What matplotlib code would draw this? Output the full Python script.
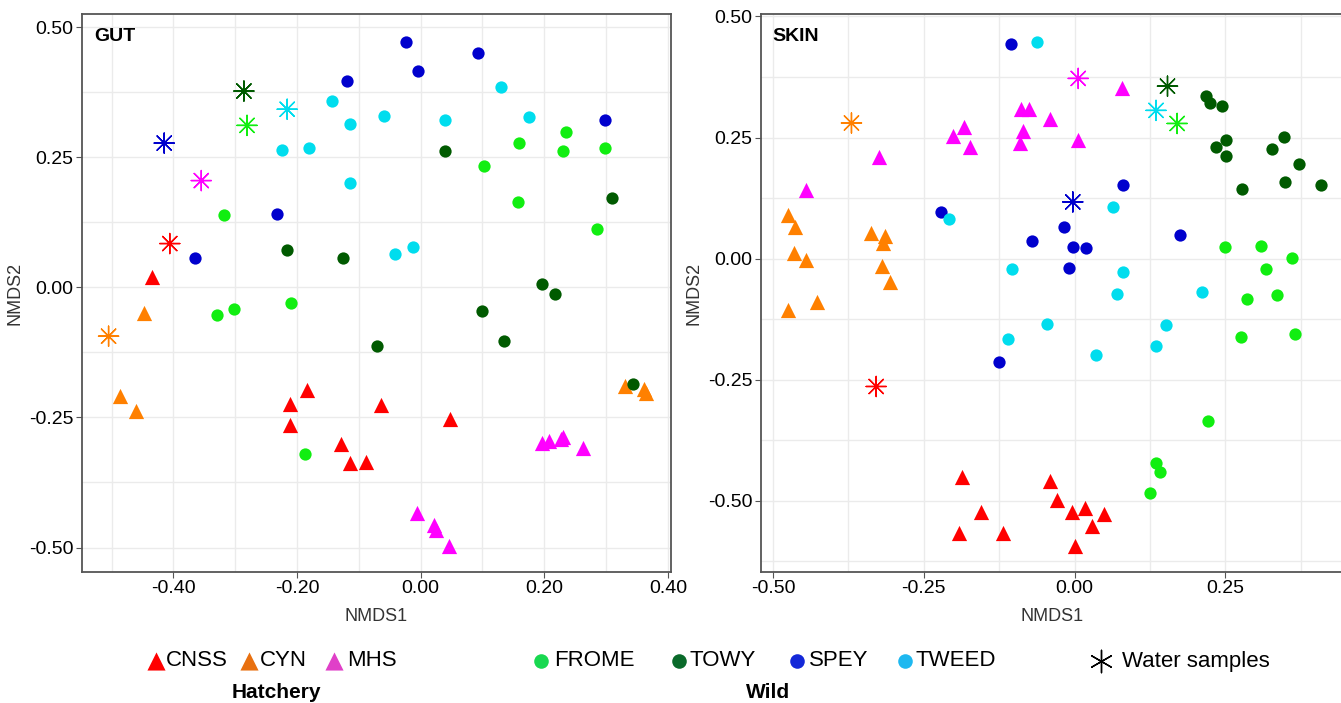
import matplotlib
matplotlib.use("Agg")
import matplotlib.pyplot as plt
import numpy as np

plt.rcParams['font.family'] = ['Liberation Sans', 'DejaVu Sans']
plt.rcParams['axes.unicode_minus'] = False

# ---- data (NMDS1, NMDS2) ----
# GUT panel
gut_cnss = ([-0.435, -0.184, -0.211, -0.064, -0.211, 0.047, -0.129, -0.114, -0.088],
            [0.019, -0.198, -0.225, -0.226, -0.265, -0.254, -0.301, -0.338, -0.336])
gut_cyn = ([-0.447, -0.486, -0.460, 0.330, 0.361, 0.365],
           [-0.049, -0.208, -0.237, -0.190, -0.196, -0.203])
gut_mhs = ([0.196, 0.208, 0.230, 0.227, 0.262, -0.006, 0.021, 0.025, 0.045],
           [-0.299, -0.296, -0.288, -0.292, -0.309, -0.433, -0.456, -0.466, -0.498])
gut_frome = ([0.235, 0.159, 0.230, 0.298, 0.103, 0.158, 0.286, -0.319, -0.210, -0.302, -0.329, -0.187],
             [0.299, 0.278, 0.261, 0.267, 0.233, 0.164, 0.112, 0.139, -0.030, -0.042, -0.053, -0.320])
gut_towy = ([0.039, 0.309, -0.216, -0.126, 0.196, 0.218, 0.099, 0.134, -0.071, 0.343],
            [0.261, 0.171, 0.072, 0.056, 0.006, -0.012, -0.045, -0.103, -0.112, -0.185])
gut_spey = ([-0.023, 0.092, -0.004, -0.119, 0.298, -0.233, -0.365],
            [0.472, 0.451, 0.416, 0.396, 0.321, 0.141, 0.056])
gut_tweed = ([0.130, -0.143, -0.114, -0.059, 0.040, 0.176, -0.224, -0.180, -0.114, -0.041, -0.013],
             [0.385, 0.357, 0.313, 0.330, 0.321, 0.328, 0.264, 0.267, 0.200, 0.063, 0.077])
# water samples, same order as sites below
gut_water_x = [-0.406, -0.505, -0.355, -0.281, -0.286, -0.415, -0.216]
gut_water_y = [0.084, -0.094, 0.205, 0.311, 0.377, 0.277, 0.342]

# SKIN panel
skin_cnss = ([-0.187, -0.041, -0.029, -0.155, -0.004, 0.017, 0.049, 0.029, -0.191, -0.119, 0.001],
             [-0.451, -0.460, -0.499, -0.524, -0.524, -0.514, -0.527, -0.553, -0.566, -0.566, -0.594])
skin_cyn = ([-0.476, -0.464, -0.465, -0.446, -0.337, -0.314, -0.318, -0.320, -0.306, -0.427, -0.476],
            [0.091, 0.066, 0.011, -0.003, 0.052, 0.047, 0.033, -0.016, -0.049, -0.089, -0.106])
skin_mhs = ([0.079, -0.089, -0.075, -0.041, -0.184, -0.201, -0.173, -0.086, -0.091, 0.006, -0.325, -0.446],
            [0.352, 0.309, 0.309, 0.289, 0.271, 0.253, 0.231, 0.263, 0.238, 0.244, 0.210, 0.141])
skin_frome = ([0.249, 0.309, 0.360, 0.317, 0.335, 0.286, 0.276, 0.365, 0.221, 0.135, 0.141, 0.125],
              [0.025, 0.027, 0.002, -0.022, -0.076, -0.084, -0.161, -0.156, -0.336, -0.422, -0.441, -0.484])
skin_towy = ([0.218, 0.225, 0.244, 0.251, 0.235, 0.251, 0.347, 0.327, 0.372, 0.278, 0.349, 0.409],
             [0.335, 0.321, 0.316, 0.244, 0.231, 0.212, 0.251, 0.227, 0.196, 0.144, 0.158, 0.151])
skin_spey = ([-0.105, -0.222, 0.080, -0.017, -0.071, -0.002, 0.019, -0.010, 0.174, -0.126],
             [0.443, 0.097, 0.153, 0.065, 0.036, 0.023, 0.021, -0.020, 0.048, -0.214])
skin_tweed = ([-0.063, -0.208, 0.064, -0.103, 0.080, 0.070, 0.212, -0.045, 0.152, -0.110, 0.135, 0.036],
              [0.447, 0.081, 0.106, -0.022, -0.027, -0.073, -0.069, -0.135, -0.137, -0.166, -0.181, -0.198])
skin_water_x = [-0.329, -0.370, 0.006, 0.170, 0.154, -0.003, 0.135]
skin_water_y = [-0.264, 0.280, 0.372, 0.279, 0.356, 0.117, 0.306]

sites = ["CNSS", "CYN", "MHS", "FROME", "TOWY", "SPEY", "TWEED"]
colors = ["#ff0000", "#ff8000", "#ff00ff", "#11ee11", "#005a00", "#0000cd", "#00ddee"]
legend_colors = ["#ff0000", "#e87010", "#e040c8", "#18d850", "#0a6a2a", "#1428d8", "#1eb8f0"]

fig = plt.figure(figsize=(13.41, 7.03), dpi=100)
ax1 = fig.add_axes([82 / 1341, 1 - 572 / 703, 589 / 1341, 558 / 703])
ax2 = fig.add_axes([761 / 1341, 1 - 572 / 703, 582 / 1341, 558 / 703])


def draw_panel(ax, groups, wx, wy, title):
    for (gx, gy), site, col in zip(groups, sites, colors):
        marker = '^' if site in ("CNSS", "CYN", "MHS") else 'o'
        size = 120 if marker == '^' else 78
        ax.scatter(gx, gy, marker=marker, s=size, color=col, linewidths=0, zorder=3)
    ax.scatter(wx, wy, marker=(8, 2, 0), s=210, c=colors, linewidths=1.0, zorder=3)
    ax.set_facecolor('white')
    ax.grid(True, which='both', color='#ebebeb', lw=1.0, zorder=0)
    ax.set_axisbelow(True)
    for sp in ax.spines.values():
        sp.set_color('#555555')
        sp.set_linewidth(1.3)
    ax.tick_params(which='major', length=4, color='#555555', labelsize=14, pad=2)
    ax.tick_params(which='minor', length=0)
    ax.set_xlabel('NMDS1', fontsize=13, color='#333333', labelpad=8)
    ax.set_ylabel('NMDS2', fontsize=13, color='#333333', labelpad=4)
    ax.yaxis.set_major_formatter(matplotlib.ticker.FormatStrFormatter('%.2f'))
    ax.xaxis.set_major_formatter(matplotlib.ticker.FormatStrFormatter('%.2f'))
    ax.text(0.02, 0.975, title, transform=ax.transAxes, fontsize=14,
            fontweight='bold', va='top', ha='left')


draw_panel(ax1, [gut_cnss, gut_cyn, gut_mhs, gut_frome, gut_towy, gut_spey, gut_tweed],
           gut_water_x, gut_water_y, 'GUT')
ax1.set_xlim(-0.548, 0.405)
ax1.set_ylim(-0.547, 0.525)
ax1.set_xticks([-0.4, -0.2, 0.0, 0.2, 0.4])
ax1.set_xticks([-0.5, -0.3, -0.1, 0.1, 0.3], minor=True)
ax1.set_yticks([-0.5, -0.25, 0.0, 0.25, 0.5])
ax1.set_yticks([-0.375, -0.125, 0.125, 0.375], minor=True)

draw_panel(ax2, [skin_cnss, skin_cyn, skin_mhs, skin_frome, skin_towy, skin_spey, skin_tweed],
           skin_water_x, skin_water_y, 'SKIN')
ax2.set_xlim(-0.520, 0.445)
ax2.set_ylim(-0.647, 0.505)
ax2.set_xticks([-0.5, -0.25, 0.0, 0.25])
ax2.set_xticks([-0.375, -0.125, 0.125, 0.375], minor=True)
ax2.set_yticks([-0.5, -0.25, 0.0, 0.25, 0.5])
ax2.set_yticks([-0.625, -0.375, -0.125, 0.125, 0.375], minor=True)
ax2.spines['right'].set_visible(False)

# custom legend row along the bottom
leg = fig.add_axes([0, 0, 1, 1 - 630 / 703])
leg.set_xlim(0, 1341)
leg.set_ylim(73, 0)
leg.axis('off')
leg_marker_x = [156, 249, 334, 541, 679, 797, 905]
leg_text_x = [166, 260, 347, 554, 690, 809, 916]
for i, site in enumerate(sites):
    marker = '^' if i < 3 else 'o'
    leg.scatter([leg_marker_x[i]], [31], marker=marker, s=170 if i < 3 else 110,
                color=legend_colors[i], linewidths=0)
    leg.text(leg_text_x[i], 31, site, fontsize=16, va='center', ha='left')
leg.scatter([1101], [31], marker=(6, 2, 0), s=260, color='black', linewidths=1.0)
leg.text(1122, 31, 'Water samples', fontsize=16, va='center', ha='left')
leg.text(276, 63, 'Hatchery', fontsize=15, fontweight='bold', va='center', ha='center')
leg.text(768, 63, 'Wild', fontsize=15, fontweight='bold', va='center', ha='center')

fig.savefig('out.png', dpi=100)
